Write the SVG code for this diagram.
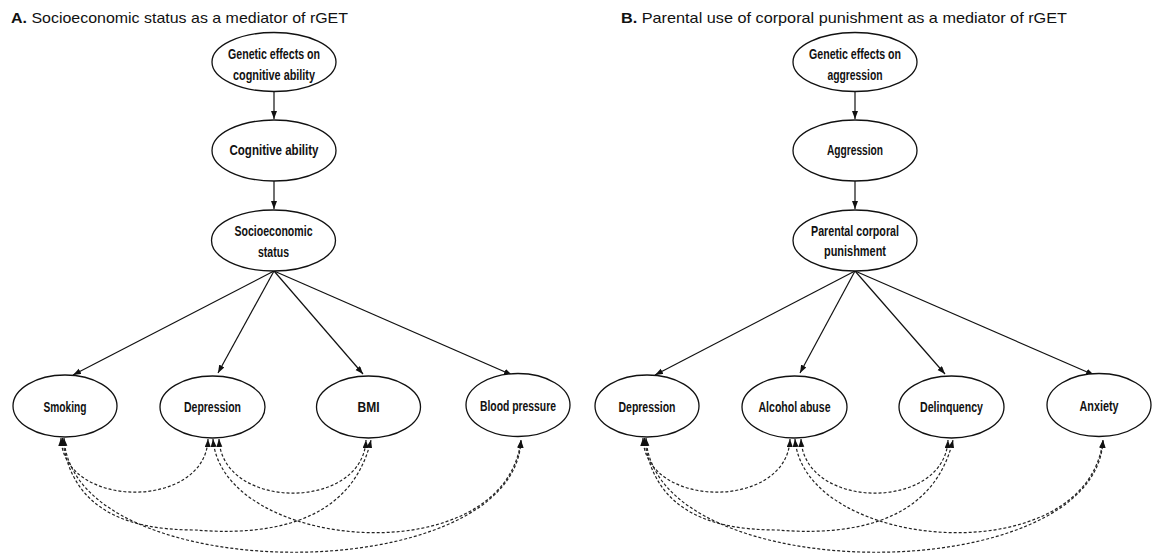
<svg xmlns="http://www.w3.org/2000/svg" width="1155" height="557" viewBox="0 0 1155 557">
<style>
.title{font-family:"Liberation Sans",Arial,sans-serif;font-size:15px;fill:#111}
.nd ellipse{fill:#fff;stroke:#111;stroke-width:1.3}
.nd text{font-family:"Liberation Sans Narrow","Liberation Sans",Arial,sans-serif;font-size:15px;font-weight:bold;fill:#111;text-anchor:middle}
.sol{fill:none;stroke:#111;stroke-width:1.2;marker-end:url(#ah)}
.dsh{fill:none;stroke:#222;stroke-width:1.2;stroke-dasharray:3 2;marker-start:url(#ah2);marker-end:url(#ah2)}
</style>
<defs>
<marker id="ah" markerUnits="userSpaceOnUse" markerWidth="9" markerHeight="7" refX="8" refY="3" orient="auto"><path d="M0,0 L8,3 L0,6 z" fill="#111"/></marker>
<marker id="ah2" markerUnits="userSpaceOnUse" markerWidth="9" markerHeight="7" refX="8" refY="3" orient="auto-start-reverse"><path d="M0,0 L8,3 L0,6 z" fill="#111"/></marker>
</defs>
<rect width="1155" height="557" fill="#fff"/>
<text class="title" x="11" y="23" textLength="337" lengthAdjust="spacingAndGlyphs"><tspan font-weight="bold">A.</tspan> Socioeconomic status as a mediator of rGET</text>
<text class="title" x="621" y="23" textLength="446" lengthAdjust="spacingAndGlyphs"><tspan font-weight="bold">B.</tspan> Parental use of corporal punishment as a mediator of rGET</text>

<g id="connectors">
<path class="sol" d="M274,92 L274,119"/>
<path class="sol" d="M274,181 L274,209"/>
<path class="sol" d="M274,271 L73,375"/>
<path class="sol" d="M274,271 L218,373"/>
<path class="sol" d="M274,271 L363,374"/>
<path class="sol" d="M274,271 L512,375"/>
<path class="dsh" d="M61,438 C63,510 206,510 208,439"/>
<path class="dsh" d="M62.5,438 C70,505 120,530 195,530 C255,535 350,530 371,440"/>
<path class="dsh" d="M64,438 C72,590 515,590 521,440"/>
<path class="dsh" d="M219,439 C222,511 363,511 366,440"/>
<path class="dsh" d="M213,439 C222,552 505,575 521,440"/>

<path class="sol" d="M855,92 L855,119"/>
<path class="sol" d="M855,181 L855,209"/>
<path class="sol" d="M855,271 L655,375"/>
<path class="sol" d="M855,271 L800,373"/>
<path class="sol" d="M855,271 L945,374"/>
<path class="sol" d="M855,271 L1094,375"/>
<path class="dsh" d="M643,438 C645,510 788,510 790,439"/>
<path class="dsh" d="M644.5,438 C652,505 702,530 777,530 C837,535 932,530 953,440"/>
<path class="dsh" d="M646,438 C654,590 1097,590 1103,440"/>
<path class="dsh" d="M801,439 C804,511 945,511 948,440"/>
<path class="dsh" d="M795,439 C804,552 1087,575 1103,440"/>
</g>

<g id="nA1" class="nd"><ellipse cx="274" cy="62" rx="62" ry="29.5"/><text x="274" y="59" textLength="92" lengthAdjust="spacingAndGlyphs">Genetic effects on</text><text x="274" y="80" textLength="82" lengthAdjust="spacingAndGlyphs">cognitive ability</text></g>
<g id="nA2" class="nd"><ellipse cx="274" cy="150.5" rx="62" ry="30.5"/><text x="274" y="155" textLength="89" lengthAdjust="spacingAndGlyphs">Cognitive ability</text></g>
<g id="nA3" class="nd"><ellipse cx="273.5" cy="240.5" rx="62" ry="30.5"/><text x="273.5" y="236" textLength="78" lengthAdjust="spacingAndGlyphs">Socioeconomic</text><text x="273.5" y="257" textLength="31" lengthAdjust="spacingAndGlyphs">status</text></g>
<g id="nA4" class="nd"><ellipse cx="65" cy="406" rx="52" ry="31"/><text x="65" y="412" textLength="43" lengthAdjust="spacingAndGlyphs">Smoking</text></g>
<g id="nA5" class="nd"><ellipse cx="212.5" cy="407" rx="52.5" ry="31"/><text x="212.5" y="412" textLength="57" lengthAdjust="spacingAndGlyphs">Depression</text></g>
<g id="nA6" class="nd"><ellipse cx="368.5" cy="407" rx="52" ry="31"/><text x="368.5" y="412" textLength="22" lengthAdjust="spacingAndGlyphs">BMI</text></g>
<g id="nA7" class="nd"><ellipse cx="518" cy="405" rx="52" ry="31.5"/><text x="518" y="411" textLength="76" lengthAdjust="spacingAndGlyphs">Blood pressure</text></g>

<g id="nB1" class="nd"><ellipse cx="855" cy="62" rx="62" ry="29.5"/><text x="855" y="59" textLength="92" lengthAdjust="spacingAndGlyphs">Genetic effects on</text><text x="855" y="80" textLength="55" lengthAdjust="spacingAndGlyphs">aggression</text></g>
<g id="nB2" class="nd"><ellipse cx="855" cy="150.5" rx="62" ry="30.5"/><text x="855" y="155" textLength="56" lengthAdjust="spacingAndGlyphs">Aggression</text></g>
<g id="nB3" class="nd"><ellipse cx="855" cy="240.5" rx="62" ry="30.5"/><text x="855" y="236" textLength="88" lengthAdjust="spacingAndGlyphs">Parental corporal</text><text x="855" y="256" textLength="62" lengthAdjust="spacingAndGlyphs">punishment</text></g>
<g id="nB4" class="nd"><ellipse cx="647" cy="406" rx="52" ry="31"/><text x="647" y="412" textLength="57" lengthAdjust="spacingAndGlyphs">Depression</text></g>
<g id="nB5" class="nd"><ellipse cx="794.5" cy="407" rx="52.5" ry="31"/><text x="794.5" y="412" textLength="72" lengthAdjust="spacingAndGlyphs">Alcohol abuse</text></g>
<g id="nB6" class="nd"><ellipse cx="951.5" cy="407" rx="52.5" ry="31"/><text x="951.5" y="412" textLength="63" lengthAdjust="spacingAndGlyphs">Delinquency</text></g>
<g id="nB7" class="nd"><ellipse cx="1099" cy="405" rx="52" ry="31.5"/><text x="1099" y="411" textLength="39" lengthAdjust="spacingAndGlyphs">Anxiety</text></g>
</svg>
